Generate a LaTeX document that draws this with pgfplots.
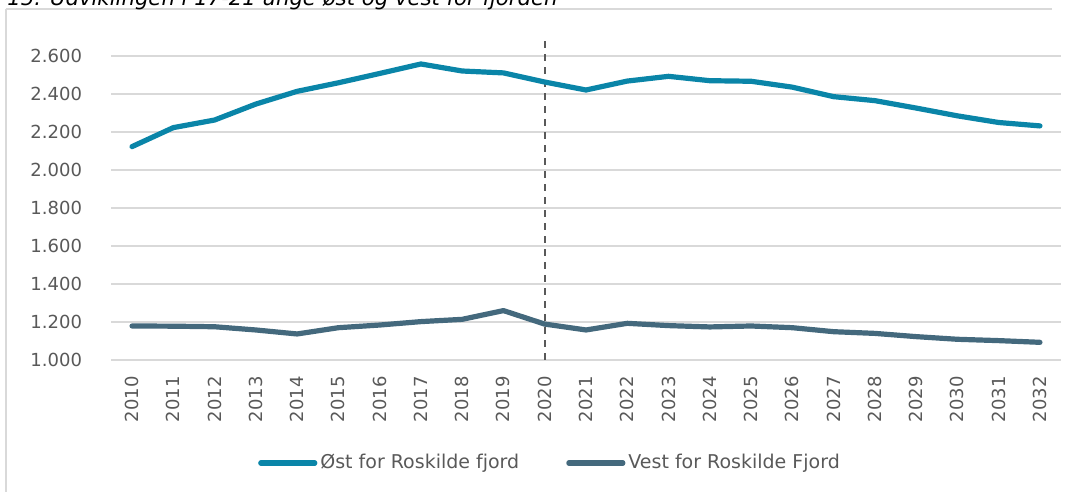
\documentclass[border=0pt]{standalone}
\usepackage{fontspec}
\setmainfont{DejaVu Sans}
\usepackage{pgfplots}
\pgfplotsset{compat=1.18}
\definecolor{oest}{HTML}{0A85A8}
\definecolor{vest}{HTML}{44697D}
\definecolor{gridc}{HTML}{D9D9D9}
\definecolor{txt}{HTML}{595959}
\definecolor{dashc}{HTML}{595959}

\begin{document}
\begin{tikzpicture}
\useasboundingbox (0,0) rectangle (536.5pt,246pt);
\draw[gridc, line width=1pt] (3pt,0pt) -- (3pt,241.5pt);
\draw[gridc, line width=1pt] (3pt,241.5pt) -- (526pt,241.5pt);
\node[anchor=base west, inner sep=0pt, font=\itshape\fontsize{10.6}{12}\selectfont, text=black] at (3.5pt,243pt) {15. Udviklingen i 17-21 unge øst og vest for fjorden};
\begin{axis}[
  at={(55.7pt,66pt)}, anchor=south west,
  scale only axis, width=474.6pt, height=152pt,
  xmin=2009.5, xmax=2032.5, ymin=1000, ymax=2600,
  xtick={2010,...,2032}, ytick={1000,1200,...,2600},
  yticklabels={1.000,1.200,1.400,1.600,1.800,2.000,2.200,2.400,2.600},
  axis line style={draw=none},
  major tick length=0pt,
  ymajorgrids, xmajorgrids=false,
  major grid style={gridc, line width=1pt},
  tick label style={font=\fontsize{9}{11}\selectfont, text=txt},
  /pgf/number format/assume math mode=true,
  xticklabel style={rotate=90, anchor=east, inner sep=0pt, /pgf/number format/1000 sep={}},
  xticklabel shift=8pt,
  yticklabel style={anchor=east, inner sep=0pt},
  yticklabel shift=14.5pt,
  clip=false,
  legend columns=2,
  legend style={at={(0.4626,-0.339)}, anchor=center, draw=none, fill=none,
    font=\fontsize{9.5}{11}\selectfont, text=txt,
    /tikz/every even column/.append style={column sep=22pt},
    nodes={inner sep=1.5pt}},
  legend image code/.code={\draw[#1, line cap=round] (0pt,0pt) -- (27pt,0pt);},
]
\addplot[dashc, line width=0.9pt, dash pattern=on 3.5pt off 3pt, forget plot] coordinates {(2020,1000) (2020,2700)};
\addplot[oest, line width=2.6pt, line cap=round, line join=round] coordinates {
(2010,2123) (2011,2223) (2012,2263) (2013,2347) (2014,2414) (2015,2459) (2016,2508)
(2017,2558) (2018,2521) (2019,2511) (2020,2463) (2021,2421) (2022,2468) (2023,2493)
(2024,2470) (2025,2467) (2026,2436) (2027,2386) (2028,2365) (2029,2326) (2030,2285)
(2031,2250) (2032,2232)};
\addlegendentry{Øst for Roskilde fjord}
\addplot[vest, line width=2.6pt, line cap=round, line join=round] coordinates {
(2010,1179) (2011,1178) (2012,1175) (2013,1158) (2014,1137) (2015,1170) (2016,1184)
(2017,1202) (2018,1214) (2019,1260) (2020,1189) (2021,1158) (2022,1193) (2023,1181)
(2024,1174) (2025,1179) (2026,1170) (2027,1149) (2028,1140) (2029,1123) (2030,1109)
(2031,1102) (2032,1093)};
\addlegendentry{Vest for Roskilde Fjord}
\end{axis}
\end{tikzpicture}
\end{document}
